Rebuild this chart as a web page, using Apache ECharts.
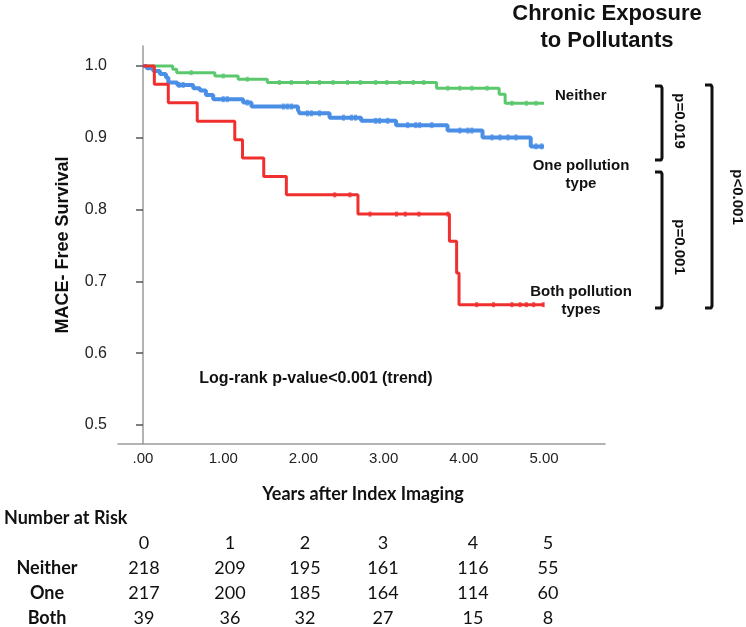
<!DOCTYPE html>
<html>
<head>
<meta charset="utf-8">
<script src="https://cdn.jsdelivr.net/npm/echarts@6/dist/echarts.min.js"></script>
<style>html,body{margin:0;padding:0;background:#fff;}#c{width:746px;height:627px;}</style>
</head>
<body>
<div id="c"></div>
<script>
// ---- data ----
var xTicks = [0, 1, 2, 3, 4, 5];
var yTicks = [0.5, 0.6, 0.7, 0.8, 0.9, 1.0];

var neitherT = [0, 0.37, 0.42, 0.896, 1.186, 1.55, 3.66, 4.44, 4.515, 5.0];
var neitherS = [1.0, 0.9954, 0.9907, 0.986, 0.9815, 0.977, 0.969, 0.9606, 0.948, 0.948];

var oneT = [0, 0.046, 0.128, 0.211, 0.286, 0.315, 0.427, 0.626, 0.709, 0.784, 0.875, 1.248, 1.352, 1.932, 1.953, 2.326, 2.72, 3.155, 3.797, 4.233, 4.834, 5.0];
var oneS = [1.0, 0.9968, 0.993, 0.9889, 0.984, 0.977, 0.9736, 0.969, 0.9657, 0.9597, 0.9537, 0.949, 0.9435, 0.939, 0.934, 0.928, 0.9236, 0.9176, 0.910, 0.9005, 0.888, 0.888];

var bothT = [0, 0.141, 0.315, 0.676, 1.144, 1.24, 1.505, 1.787, 2.68, 3.82, 3.91, 3.94, 5.0];
var bothS = [1.0, 0.9744, 0.9487, 0.9231, 0.8974, 0.8718, 0.8462, 0.8205, 0.7937, 0.7559, 0.7118, 0.6676, 0.6676];

var neitherC = [0.6, 1.0, 1.3, 1.7, 1.85, 2.05, 2.2, 2.37, 2.55, 2.71, 2.9, 3.04, 3.2, 3.37, 3.5, 3.8, 3.95, 4.1, 4.29, 4.6, 4.78, 4.9];
var oneC = [0.45, 0.5, 1.0, 1.05, 1.3, 1.75, 1.8, 1.85, 2.05, 2.1, 2.2, 2.5, 2.6, 2.65, 2.9, 2.95, 3.05, 3.3, 3.4, 3.45, 3.6, 3.95, 4.05, 4.1, 4.35, 4.45, 4.55, 4.65, 4.9, 4.97];
var bothC = [2.39, 2.58, 2.83, 3.16, 3.27, 3.44, 3.80, 4.16, 4.37, 4.6, 4.7, 4.78, 4.87, 4.99];

var riskYears = ['0', '1', '2', '3', '4', '5'];
var riskGroups = ['Neither', 'One', 'Both'];
var riskNeither = [218, 209, 195, 161, 116, 55];
var riskOne = [217, 200, 185, 164, 114, 60];
var riskBoth = [39, 36, 32, 27, 15, 8];

// ---- build ----
function pairs(T, S) { return T.map(function (t, i) { return [t, S[i]]; }); }
function censor(C, T, S) {
  return C.map(function (c) {
    var k = 0;
    for (var i = 0; i < T.length; i++) { if (T[i] <= c) k = i; }
    return [c, S[k]];
  });
}
var GREEN = '#5cc86e', BLUE = '#4a8ee6', RED = '#f0302e';
var AR = 'Liberation Sans, Arial, sans-serif';
var CAL = 'Lato, sans-serif';

var chart = echarts.init(document.getElementById('c'), null, {renderer: 'canvas'});

var graphics = [];
function txt(x, y, s, opt) {
  opt = opt || {};
  graphics.push({
    type: 'text', x: x, y: y, rotation: opt.rot || 0,
    style: {
      text: s, fill: opt.color || '#111', font: (opt.weight || 'bold') + ' ' + (opt.size || 15) + 'px ' + (opt.family || AR),
      textAlign: opt.align || 'center', textVerticalAlign: 'middle'
    }, z: 10
  });
}
// title
txt(607, 14, 'Chronic Exposure', {size: 22});
txt(607, 41, 'to Pollutants', {size: 22});
// curve labels
txt(555, 96, 'Neither', {size: 15, align: 'left'});
txt(581, 166, 'One pollution', {size: 15});
txt(581, 184, 'type', {size: 15});
txt(581, 292, 'Both pollution', {size: 15});
txt(581, 310, 'types', {size: 15});
// p-values
txt(679, 121, 'p=0.019', {size: 15, rot: -Math.PI / 2});
txt(679, 247, 'p=0.001', {size: 15, rot: -Math.PI / 2});
txt(737, 197, 'p<0.001', {size: 15, rot: -Math.PI / 2});
// log-rank
txt(316, 379, 'Log-rank p-value<0.001 (trend)', {size: 16});
// axis names
txt(63, 245, 'MACE- Free Survival', {size: 18, rot: Math.PI / 2});
txt(363, 494, 'Years after Index Imaging', {size: 18, family: CAL});
// number at risk table
txt(4, 518, 'Number at Risk', {size: 18, family: CAL, align: 'left'});
var colX = [144, 230, 305, 383, 473, 548];
var rowY = [568, 593, 618];
riskYears.forEach(function (s, i) { txt(colX[i], 543, s, {size: 18, family: CAL, weight: 'normal'}); });
var rows = [riskNeither, riskOne, riskBoth];
riskGroups.forEach(function (g, r) {
  txt(47, rowY[r], g, {size: 18, family: CAL});
  rows[r].forEach(function (v, i) { txt(colX[i], rowY[r], String(v), {size: 18, family: CAL, weight: 'normal'}); });
});
// brackets
function bracket(x, y1, y2) {
  graphics.push({
    type: 'polyline', shape: {points: [[x - 7, y1], [x - 1, y1], [x, y1 + 2], [x, y2 - 2], [x - 1, y2], [x - 7, y2]]},
    style: {stroke: '#111', lineWidth: 3, fill: null, lineJoin: 'round'}, z: 10
  });
}
bracket(662, 86, 160);
bracket(662, 172, 308);
bracket(712, 85, 308);

function lineSeries(name, data, color, w) {
  return {
    name: name, type: 'line', step: 'end', data: data, symbol: 'none', silent: true,
    lineStyle: {color: color, width: w}, z: 3
  };
}
function censorSeries(name, data, color, size) {
  return {
    name: name + ' censored', type: 'scatter', data: data, symbol: 'rect', symbolSize: size,
    itemStyle: {color: color}, silent: true, z: 4
  };
}

chart.setOption({
  animation: false,
  backgroundColor: '#fff',
  grid: {left: 118, right: 141, top: 46, bottom: 183},
  xAxis: {
    type: 'value', min: -0.312, max: 5.76,
    axisLine: {show: true, lineStyle: {color: '#9a9a9a', width: 1.5}},
    axisTick: {show: false},
    splitLine: {show: false},
    axisLabel: {
      customValues: xTicks, margin: 7, color: '#222', fontFamily: AR, fontSize: 15,
      formatter: function (v) { return v === 0 ? '.00' : v.toFixed(2); }
    }
  },
  yAxis: {
    type: 'value', min: 0.47361, max: 1.02778,
    axisLine: {show: true, lineStyle: {color: '#9a9a9a', width: 1.5}},
    axisTick: {show: true, customValues: yTicks, length: 7, lineStyle: {color: '#555', width: 1.5}},
    splitLine: {show: false},
    axisLabel: {
      customValues: yTicks, margin: 11, color: '#222', fontFamily: AR, fontSize: 16,
      formatter: function (v) { return v.toFixed(1); }
    }
  },
  series: [
    lineSeries('Neither', pairs(neitherT, neitherS), GREEN, 3),
    lineSeries('One', pairs(oneT, oneS), BLUE, 4),
    lineSeries('Both', pairs(bothT, bothS), RED, 3),
    censorSeries('Neither', censor(neitherC, neitherT, neitherS), GREEN, [3, 5]),
    censorSeries('One', censor(oneC, oneT, oneS), BLUE, [3, 6]),
    censorSeries('Both', censor(bothC, bothT, bothS), RED, [3, 5])
  ],
  graphic: graphics
});
</script>
</body>
</html>
